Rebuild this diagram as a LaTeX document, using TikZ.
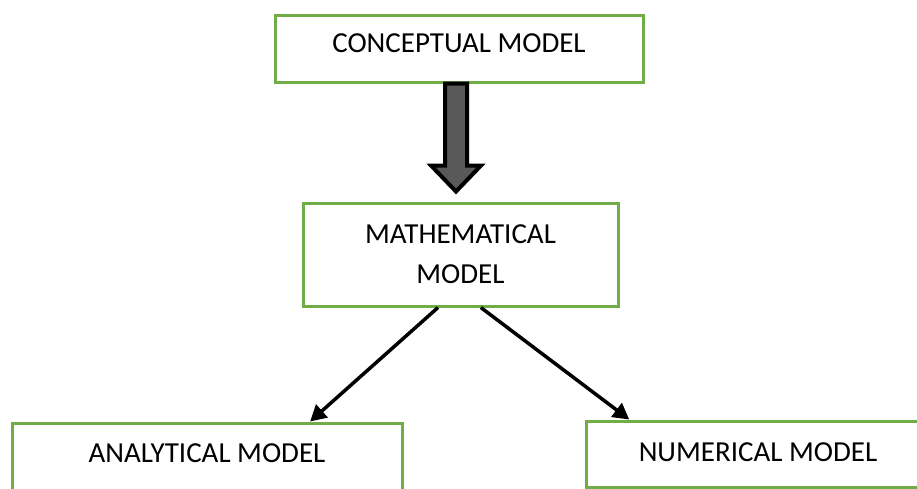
\documentclass[tikz,border=0pt]{standalone}
\usepackage{fontspec}
\setmainfont{Carlito}
\usetikzlibrary{arrows.meta,calc}
\definecolor{boxgreen}{HTML}{70AD47}
\definecolor{arrowgray}{HTML}{595959}
\begin{document}
\begin{tikzpicture}[x=1pt,y=-1pt,
    modelbox/.style={draw=boxgreen,line width=3pt,inner sep=0pt,align=center,font=\fontsize{29}{40}\selectfont},
    flowline/.style={line width=3.5pt,-{Triangle[length=16pt,width=17pt]}},
    blockarrow/.style={draw=black,line width=4pt,fill=arrowgray,line join=miter}]
  \useasboundingbox (0,0) rectangle (917,488);
  \clip (0,0) rectangle (917,488);
  \node[modelbox,minimum width=368pt,minimum height=67pt,text depth=11pt] (concept) at (459,48.5) {CONCEPTUAL MODEL};
  \node[modelbox,minimum width=315pt,minimum height=103pt] (math) at (460.5,254.5) {MATHEMATICAL\\MODEL};
  \node[modelbox,minimum width=390pt,minimum height=72pt,text depth=12pt] (analytic) at (207,459) {ANALYTICAL MODEL};
  \node[modelbox,minimum width=344pt,minimum height=66pt,text depth=4pt] (numeric) at (758,454) {NUMERICAL MODEL};
  \draw[blockarrow] ($(concept.south)+(-14,0)$) -- ++(22,0) -- ++(0,82) -- ++(14,0) -- ++(-25,26) -- ++(-25,-26) -- ++(14,0) -- cycle;
  \draw[flowline] (math.-113.6) -- (analytic.20.2);
  \draw[flowline] (math.-69.3) -- (numeric.165.8);
\end{tikzpicture}
\end{document}
